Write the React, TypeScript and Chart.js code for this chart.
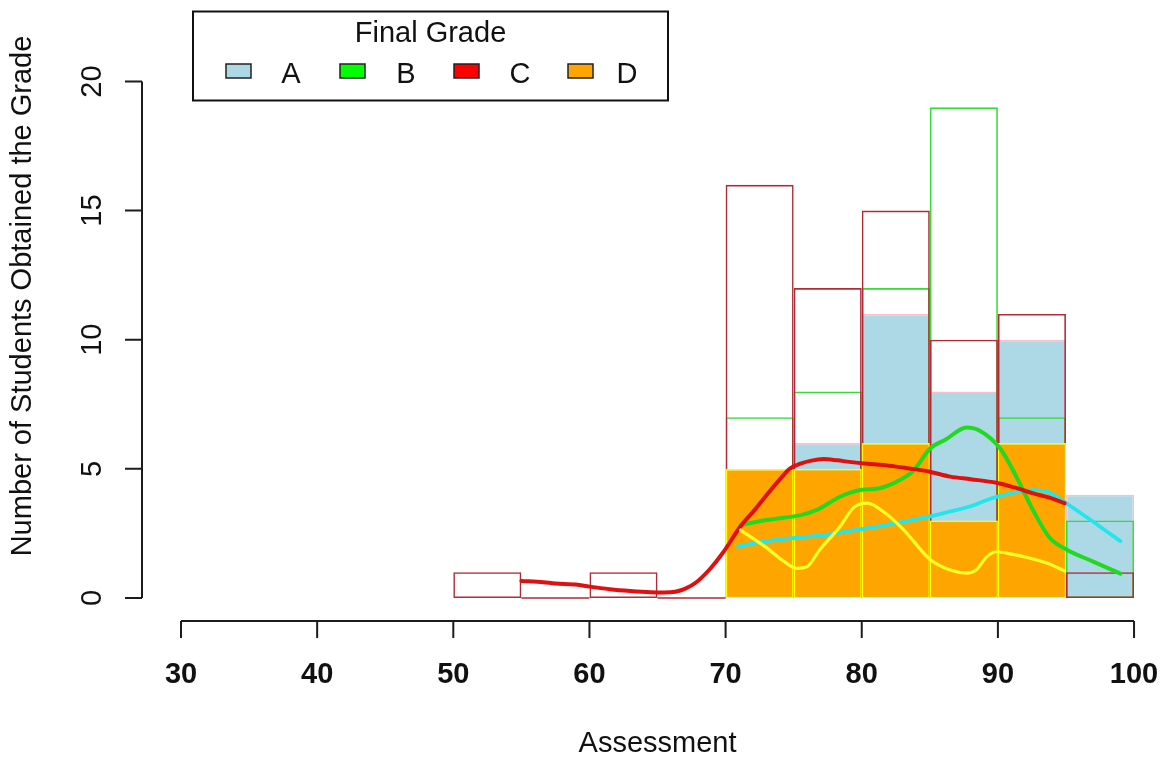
import React, { useEffect, useRef } from "react";
import { Chart, registerables } from "chart.js";

Chart.register(...registerables);

// ---------------- data ----------------
const BIN_STARTS = [50, 55, 60, 65, 70, 75, 80, 85, 90, 95];
const BIN_WIDTH = 5;
const GRADE_A_COUNTS = [0, 0, 0, 0, 0, 6, 11, 8, 10, 4];
const GRADE_B_COUNTS = [0, 0, 0, 0, 7, 8, 12, 19, 7, 3];
const GRADE_C_COUNTS = [1, 0, 1, 0, 16, 12, 15, 10, 11, 1];
const GRADE_D_COUNTS = [0, 0, 0, 0, 5, 5, 6, 3, 6, 0];

const DENS_A_X = [70.9, 73.0, 75.5, 77.5, 79.1, 81.0, 83.0, 84.5, 86.5, 88.0, 89.5, 90.9, 92.6, 93.6, 95.1, 97.0, 99.0];
const DENS_A_Y = [1.99, 2.2, 2.35, 2.45, 2.6, 2.75, 2.95, 3.1, 3.35, 3.55, 3.85, 4.05, 4.18, 4.12, 3.64, 2.95, 2.2];

const DENS_B_X = [71.1, 73.0, 75.5, 76.7, 78.4, 79.9, 81.3, 82.8, 83.8, 85.0, 86.2, 87.7, 88.7, 90.2, 91.4, 92.6, 93.8, 95.1, 97.0, 99.0];
const DENS_B_Y = [2.83, 3.02, 3.21, 3.41, 3.92, 4.18, 4.25, 4.57, 4.93, 5.78, 6.15, 6.6, 6.47, 5.77, 4.65, 3.38, 2.33, 1.86, 1.41, 0.94];

const DENS_C_X = [55.0, 56.6, 57.5, 59.0, 60.0, 61.5, 63.0, 64.5, 65.5, 66.3, 67.0, 67.9, 68.9, 69.8, 71.1, 72.2, 73.0, 74.0, 74.7, 75.5, 76.3, 77.2, 78.2, 79.1, 80.4, 81.6, 83.0, 84.0, 85.0, 86.5, 88.0, 89.9, 91.2, 92.6, 94.0, 94.9];
const DENS_C_Y = [0.66, 0.61, 0.56, 0.52, 0.44, 0.34, 0.27, 0.22, 0.21, 0.24, 0.35, 0.63, 1.15, 1.75, 2.78, 3.45, 3.98, 4.6, 5.0, 5.2, 5.32, 5.38, 5.33, 5.27, 5.2, 5.15, 5.05, 4.98, 4.89, 4.7, 4.6, 4.46, 4.28, 4.05, 3.85, 3.67];

const DENS_D_X = [71.1, 73.0, 74.2, 75.2, 76.0, 76.9, 78.4, 79.4, 80.4, 81.6, 83.1, 85.0, 86.5, 87.7, 88.4, 89.2, 89.9, 91.0, 92.3, 93.6, 94.9];
const DENS_D_Y = [2.63, 1.95, 1.45, 1.15, 1.22, 1.86, 2.76, 3.5, 3.67, 3.34, 2.63, 1.5, 1.08, 0.96, 1.08, 1.6, 1.79, 1.7, 1.55, 1.35, 1.05];

const X_TICKS = [30, 40, 50, 60, 70, 80, 90, 100];
const Y_TICKS = [0, 5, 10, 15, 20];
const LEGEND_TITLE = "Final Grade";
const LEGEND_LABELS = ["A", "B", "C", "D"];
const X_TITLE = "Assessment";
const Y_TITLE = "Number of Students Obtained the Grade";

// ---------------- styles ----------------
const FAMILY = '"Liberation Sans", Arial, Helvetica, sans-serif';
const FONT = `29px ${FAMILY}`;
const BOLD_FONT = `bold 29px ${FAMILY}`;
const TEXT_COLOR = "#111111";
const AXIS_COLOR = "#1c1c1c";
const LEGEND_FILLS = ["#add8e6", "#00ff00", "#ff0000", "#ffa500"];
const TICK_LEN = 17;

const toBars = (counts: number[]) =>
  BIN_STARTS.map((s, i) => ({ x: s + BIN_WIDTH / 2, y: counts[i] > 0 ? counts[i] : null }));

const toLine = (xs: number[], ys: number[]) => xs.map((x, i) => ({ x, y: ys[i] }));

const zeroBaseline = (counts: number[]) => {
  const pts: { x: number; y: number | null }[] = [];
  BIN_STARTS.forEach((s, i) => {
    if (counts[i] === 0) {
      if (pts.length) pts.push({ x: s, y: null });
      pts.push({ x: s, y: 0 }, { x: s + BIN_WIDTH, y: 0 });
    }
  });
  return pts;
};

const rAxesPlugin = {
  id: "rAxes",
  afterDraw(chart: any) {
    const { ctx, chartArea } = chart;
    const xs = chart.scales.x;
    const ys = chart.scales.y;
    ctx.save();
    ctx.strokeStyle = AXIS_COLOR;
    ctx.fillStyle = TEXT_COLOR;
    ctx.lineWidth = 2;

    // x axis
    const axisY = Math.round(chartArea.bottom);
    ctx.beginPath();
    ctx.moveTo(xs.getPixelForValue(X_TICKS[0]), axisY);
    ctx.lineTo(xs.getPixelForValue(X_TICKS[X_TICKS.length - 1]), axisY);
    X_TICKS.forEach((t) => {
      const px = xs.getPixelForValue(t);
      ctx.moveTo(px, axisY);
      ctx.lineTo(px, axisY + TICK_LEN);
    });
    ctx.stroke();
    ctx.textAlign = "center";
    ctx.textBaseline = "alphabetic";
    ctx.font = BOLD_FONT;
    X_TICKS.forEach((t) => {
      ctx.fillText(String(t), xs.getPixelForValue(t), axisY + 62);
    });
    ctx.font = FONT;
    ctx.fillText(X_TITLE, xs.getPixelForValue(65), axisY + 131);

    // y axis
    const axisX = Math.round(chartArea.left);
    ctx.beginPath();
    ctx.moveTo(axisX, ys.getPixelForValue(Y_TICKS[0]));
    ctx.lineTo(axisX, ys.getPixelForValue(Y_TICKS[Y_TICKS.length - 1]));
    Y_TICKS.forEach((t) => {
      const py = ys.getPixelForValue(t);
      ctx.moveTo(axisX, py);
      ctx.lineTo(axisX - TICK_LEN, py);
    });
    ctx.stroke();
    Y_TICKS.forEach((t) => {
      ctx.save();
      ctx.translate(axisX - 41, ys.getPixelForValue(t));
      ctx.rotate(-Math.PI / 2);
      ctx.fillText(String(t), 0, 0);
      ctx.restore();
    });
    ctx.save();
    ctx.translate(axisX - 111, 296);
    ctx.rotate(-Math.PI / 2);
    ctx.fillText(Y_TITLE, 0, 0);
    ctx.restore();

    // legend
    ctx.lineWidth = 2;
    ctx.strokeStyle = "#111";
    ctx.strokeRect(193, 11.5, 475, 89);
    ctx.fillText(LEGEND_TITLE, 430.5, 42);
    const swX = [226, 340, 454, 568];
    const txtX = [291, 406, 520, 627];
    LEGEND_LABELS.forEach((lab, i) => {
      ctx.fillStyle = LEGEND_FILLS[i];
      ctx.fillRect(swX[i], 64, 25, 14);
      ctx.lineWidth = 1.5;
      ctx.strokeStyle = "#222";
      ctx.strokeRect(swX[i], 64, 25, 14);
      ctx.fillStyle = TEXT_COLOR;
      ctx.fillText(lab, txtX[i], 83);
    });
    ctx.restore();
  },
};

export default function App() {
  const canvasRef = useRef<HTMLCanvasElement | null>(null);

  useEffect(() => {
    if (!canvasRef.current) return;
    const barCommon = {
      type: "bar" as const,
      grouped: false,
      barPercentage: 1,
      categoryPercentage: 1,
      borderWidth: 1.6,
      borderSkipped: false,
      inflateAmount: 0,
    };
    const lineCommon = {
      type: "line" as const,
      pointRadius: 0,
      fill: false,
      cubicInterpolationMode: "monotone" as const,
      borderCapStyle: "round" as const,
      borderJoinStyle: "round" as const,
    };
    const chart = new Chart(canvasRef.current, {
      type: "bar",
      data: {
        datasets: [
          { ...lineCommon, label: "D density", data: toLine(DENS_D_X, DENS_D_Y), borderColor: "#ffff22", borderWidth: 3.2, order: 0 },
          { ...lineCommon, label: "C density", data: toLine(DENS_C_X, DENS_C_Y), borderColor: "#e01010", borderWidth: 4, order: 1 },
          { ...lineCommon, label: "B density", data: toLine(DENS_B_X, DENS_B_Y), borderColor: "#22d922", borderWidth: 4, order: 2 },
          { ...lineCommon, label: "A density", data: toLine(DENS_A_X, DENS_A_Y), borderColor: "#22e6ec", borderWidth: 3.8, order: 3 },
          { type: "line", label: "C zero bins", data: zeroBaseline(GRADE_C_COUNTS), borderColor: "#b22a36", borderWidth: 1.6, pointRadius: 0, spanGaps: false, order: 4 },
          { ...barCommon, label: "D", data: toBars(GRADE_D_COUNTS), backgroundColor: "#ffa500", borderColor: "#ffff00", order: 5 },
          { ...barCommon, label: "C", data: toBars(GRADE_C_COUNTS), backgroundColor: "rgba(0,0,0,0)", borderColor: "#b22a36", order: 6 },
          { ...barCommon, label: "B", data: toBars(GRADE_B_COUNTS), backgroundColor: "rgba(0,0,0,0)", borderColor: "#33dd33", order: 7 },
          { ...barCommon, label: "A", data: toBars(GRADE_A_COUNTS), backgroundColor: "#add8e6", borderColor: "#f4c2cc", order: 8 },
        ] as any,
      },
      options: {
        responsive: false,
        animation: false,
        events: [],
        layout: { padding: { left: 142, right: 0, top: 60.84, bottom: 140.3 } },
        plugins: { legend: { display: false }, tooltip: { enabled: false }, title: { display: false } },
        scales: {
          x: {
            type: "linear",
            display: false,
            offset: false,
            min: 27.135,
            max: 101.98,
            ticks: { includeBounds: false },
            afterBuildTicks: (s: any) => {
              s.ticks = X_TICKS.map((v) => ({ value: v }));
            },
          },
          y: {
            type: "linear",
            display: false,
            min: -0.88,
            max: 20.8,
          },
        },
      },
      plugins: [rAxesPlugin],
    });
    return () => chart.destroy();
  }, []);

  return (
    <div style={{ position: "absolute", left: 0, top: 0, width: 1161, height: 761, background: "#fff" }}>
      <canvas ref={canvasRef} width={1161} height={761} style={{ display: "block" }} />
    </div>
  );
}
